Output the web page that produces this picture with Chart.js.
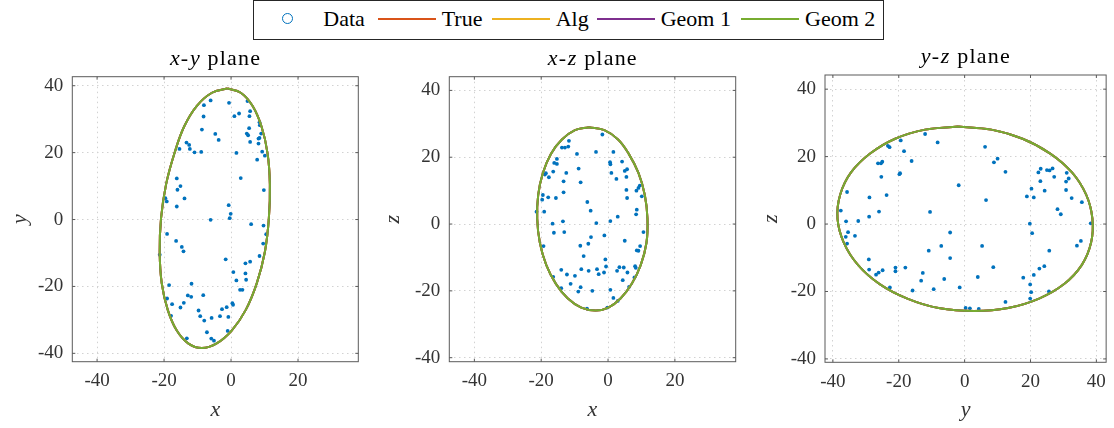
<!DOCTYPE html>
<html>
<head>
<meta charset="utf-8">
<script src="https://cdn.jsdelivr.net/npm/chart.js@4.4.0/dist/chart.umd.min.js"></script>
<style>
    body {
        margin: 0;
        background: #fff;
        width: 1114px;
        height: 428px;
        position: relative;
        overflow: hidden;
        font-family: "Liberation Serif", serif;
    }
    canvas { position: absolute; }
    #legend {
        position: absolute;
        left: 253px;
        top: 0;
        width: 631px;
        height: 40px;
        box-sizing: border-box;
        border: 1px solid #262626;
        background: #fff;
    }
    #legend .sym { position: absolute; width: 58px; height: 38px; }
    #legend .sym .ln { position: absolute; left: 0; right: 0; top: 17.3px; height: 2px; }
    #legend .sym .ring {
        position: absolute; left: 23px; top: 12.3px;
        width: 9px; height: 9px; border: 1.5px solid #0072BD; border-radius: 50%;
    }
    #legend .txt { position: absolute; top: 0; font-size: 22px; line-height: 36px; color: #000; white-space: nowrap; }
</style>
</head>
<body>
<div id="legend"></div>
<canvas id="planeXY" width="370" height="382" style="left:0;top:46px"></canvas>
<canvas id="planeXZ" width="371" height="382" style="left:377px;top:46px"></canvas>
<canvas id="planeYZ" width="361" height="382" style="left:753px;top:46px"></canvas>

<script>
// series names and colours (data, true ellipse, algebraic fit, two geometric fits)
const seriesLabels = ['Data', 'True', 'Alg', 'Geom 1', 'Geom 2'];
const seriesColors = ['#0072BD', '#D95319', '#EDB120', '#7E2F8E', '#77AC30'];
const tickValues = [-40, -20, 0, 20, 40];

// projected samples, x-y plane
const xyPtsX = [-6.1, -0.6, -8.1, -8.2, 4.9, 5.7, 5.5, 2.4, 1.0, -8.7, -4.7, -3.7, 5.4, 4.7, 5.1, 5.7,
    8.5, 8.6, 9.0, 8.5, 8.2, 8.2, 9.3, 10.1, 7.8, 1.6, -13.3, -12.5, -12.3, -15.4, -10.9, -8.9,
    -16.2, -15.1, -16.0, -13.9, -16.2, -19.2, -19.6, 2.9, 9.8, -0.7, -0.1, -0.4, -6.1, 6.0, 9.7, 10.5,
    -19.1, -16.4, -14.7, -14.2, -21.3, 9.6, 8.5, 5.7, 4.3, -1.6, 0.7, 4.3, 1.6, 4.5, 2.7, 3.4,
    -18.5, -11.8, -12.9, -11.9, -8.3, -19.1, -17.6, -15.1, -14.1, -9.7, -9.2, -8.0, -5.8, -2.7, -1.3, 0.4,
    0.6, -3.3, -0.8, -7.2, -1.0, -13.2, -5.9, -5.1, -17.9];
const xyPtsY = [35.6, 34.9, 34.2, 30.8, 35.4, 32.4, 30.9, 31.7, 30.9, 26.9, 25.6, 23.8, 27.3, 25.7, 25.2, 23.2,
    29.1, 28.2, 25.7, 24.4, 24.2, 22.7, 20.3, 19.1, 17.9, 19.9, 23.0, 22.3, 21.1, 21.1, 20.1, 20.2,
    12.3, 10.0, 8.9, 6.3, 3.9, 5.4, 6.4, 12.4, 8.8, 4.3, 1.7, 0.4, -0.1, -1.4, -1.8, -4.4,
    -4.3, -6.4, -8.2, -9.5, -10.5, -7.2, -10.9, -12.6, -13.1, -11.9, -15.7, -16.1, -18.2, -18.0, -21.0, -21.0,
    -19.6, -19.2, -22.7, -23.1, -22.6, -23.6, -25.3, -26.3, -24.9, -27.2, -28.9, -30.2, -29.4, -26.8, -26.2, -25.0,
    -25.5, -28.9, -29.1, -33.7, -33.3, -35.5, -35.6, -36.2, -28.8];
// fitted ellipse outline, x-y plane
const xyRingX = [-1.1, 2.9, 6.4, 9.1, 10.9, 11.6, 11.3, 10.1, 7.7, 4.4, 0.2, -4.4, -8.7,
    -12.7, -16.2, -18.9, -20.7, -21.3, -20.9, -19.4, -16.9, -14.0, -10.2, -5.7, -1.1];
const xyRingY = [39.2, 37.9, 34.0, 27.8, 19.8, 10.5, 0.4, -9.7, -19.0, -27.0, -33.2, -37.1, -38.4,
    -37.1, -33.2, -27.0, -19.0, -9.7, 0.4, 10.5, 19.8, 27.8, 34.0, 37.9, 39.2];

// projected samples, x-z plane
const xzPtsX = [-1.7, -11.7, -11.9, -12.9, -13.8, -3.6, 1.6, -9.3, 0.6, 0.7, 4.2, -15.3, -16.1, -15.3, -16.4, -18.6,
    -18.9, -17.7, -12.5, -8.8, 1.0, 5.7, 5.0, 2.5, 5.5, -13.3, -8.2, 9.5, 9.1, 8.5, 5.5, -13.3,
    -19.5, -17.9, -15.6, -19.7, 5.7, 10.1, -6.2, -5.2, 8.6, 8.4, 2.9, -19.1, -21.4, -13.5, 0.7, -3.5,
    -16.6, -16.2, -13.1, 10.6, -1.1, -5.1, 5.0, -5.9, -8.3, -19.3, 9.6, 8.6, 9.1, -7.3, -0.8, -0.6,
    8.1, 8.3, 3.4, 4.7, -14.0, -8.0, -3.3, 2.7, -5.8, -1.2, -2.8, -12.3, -9.9, -16.4, 7.9, 5.8,
    4.4, -11.2, -14.0, -8.2, 6.3, -8.9, -4.7, 0.7, 1.6, 2.9, -0.2, -6.3];
const xzPtsZ = [26.8, 24.9, 23.2, 22.9, 22.9, 21.6, 21.6, 21.0, 18.5, 17.9, 18.7, 19.5, 18.3, 18.0, 15.7, 15.2,
    14.8, 14.0, 15.3, 16.6, 15.3, 16.4, 15.9, 13.5, 14.1, 12.8, 12.5, 11.5, 10.8, 10.0, 10.2, 9.5,
    8.7, 8.0, 7.8, 7.3, 7.8, 8.3, 6.6, 4.0, 4.3, 2.9, 2.2, 3.7, 3.7, 0.8, 0.9, 0.3,
    0.1, -2.6, -2.4, -2.4, -3.4, -3.9, -5.0, -5.9, -6.5, -6.6, -6.6, -7.9, -8.0, -9.6, -10.6, -12.7,
    -12.6, -13.1, -12.9, -13.0, -13.7, -13.5, -13.5, -14.0, -14.0, -14.5, -15.0, -15.1, -15.5, -15.8, -16.0, -14.5,
    -16.8, -17.9, -19.2, -18.9, -18.8, -20.2, -20.0, -19.7, -22.1, -23.0, -25.0, -25.3];
// fitted ellipse outline, x-z plane
const xzRingX = [-5.7, -1.1, 3.0, 6.2, 9.1, 11.0, 11.8, 11.5, 9.8, 7.1, 3.8, 0.1, -3.7,
    -8.0, -12.1, -15.6, -18.5, -20.4, -21.2, -20.9, -19.5, -17.1, -13.8, -9.9, -5.7];
const xzRingZ = [29.0, 28.1, 25.3, 21.0, 15.3, 8.7, 1.6, -5.6, -12.2, -17.9, -22.2, -25.0, -25.9,
    -25.0, -22.2, -17.9, -12.2, -5.6, 1.6, 8.7, 15.3, 21.0, 25.3, 28.1, 29.0];

// projected samples, y-z plane
const yzPtsY = [-12.0, -8.2, -19.4, -23.3, -22.8, -18.4, -16.1, -25.0, -26.3, -25.4, -25.3, -19.6, -19.8, -23.7, -28.9, -35.7,
    -37.6, -26.0, -29.0, -10.5, -36.0, -32.3, -35.4, -36.1, -33.3, -35.7, -1.8, 6.2, 10.0, 8.9, 12.4, 6.5,
    -4.4, -7.1, 5.3, -4.4, -10.9, -29.1, -29.0, -24.9, -26.1, -26.9, -21.0, -21.0, -18.0, -12.7, -13.2, -22.7,
    -15.8, -9.4, -6.2, -1.5, 4.0, 8.7, 0.3, 1.6, 4.3, 12.4, 17.8, 19.9, 20.2, 19.9, 21.0, 22.7,
    24.2, 25.7, 25.6, 19.8, 20.5, 18.9, 20.3, 21.0, 22.4, 23.1, 23.0, 24.3, 25.0, 25.8, 26.7, 27.2,
    28.2, 29.2, 31.0, 30.8, 30.8, 31.6, 32.5, 35.6, 38.3, 35.3, 34.1];
const yzPtsZ = [26.7, 24.2, 24.8, 23.2, 22.8, 21.6, 18.7, 18.5, 18.0, 18.0, 14.0, 15.1, 14.8, 8.6, 7.9, 9.5,
    4.0, 3.7, 2.2, 3.6, 0.8, 0.9, -2.4, -3.8, -3.5, -5.8, 11.5, 22.9, 19.4, 18.3, 15.5, 7.1,
    -2.5, -6.5, -6.5, -10.1, -7.9, -10.5, -13.5, -13.7, -14.4, -15.0, -12.9, -14.0, -12.9, -14.5, -16.8, -18.8,
    -19.7, -19.3, -16.3, -18.8, -15.7, -12.8, -24.9, -25.0, -25.2, -23.1, -15.9, -17.9, -20.2, -22.1, -15.1, -13.2,
    -12.5, -7.9, -20.0, 0.1, -2.7, 8.2, 10.5, 7.9, 15.3, 16.4, 12.7, 9.9, 16.0, 15.9, 16.5, 14.0,
    4.4, 2.9, 15.2, 12.6, 10.1, 13.5, 7.7, 6.5, 0.2, -5.0, -6.4];
// fitted ellipse outline, y-z plane
const yzRingY = [-2.0, 8.1, 17.6, 26.0, 32.6, 36.9, 38.8, 38.4, 35.6, 30.2, 22.6, 13.2, 3.0,
    -7.9, -17.4, -25.8, -32.4, -36.7, -38.6, -37.8, -34.5, -28.7, -21.1, -12.0, -2.0];
const yzRingZ = [28.9, 28.0, 25.3, 20.9, 15.3, 8.7, 1.6, -5.5, -12.1, -17.8, -22.1, -24.9, -25.8,
    -24.9, -22.1, -17.8, -12.1, -5.5, 1.6, 8.7, 15.3, 20.9, 25.3, 28.0, 28.9];

// axis limits (equal aspect)
const xyLimX = [-47.4, 38.0], xyLimY = [-42.5, 42.7];
const xzLimX = [-47.5, 38.2], xzLimZ = [-41.2, 44.1];
const yzLimY = [-42.4, 42.97], yzLimZ = [-41.0, 44.2];

function toPoints(xs, ys) {
    return xs.map((x, i) => ({ x: x, y: ys[i] }));
}

// legend across the top
function buildLegend() {
    const legend = document.getElementById('legend');
    const symLeft = [5.3, 123.7, 237.7, 342.7, 487];
    seriesLabels.forEach((label, i) => {
        const sym = document.createElement('div');
        sym.className = 'sym';
        sym.style.left = symLeft[i] + 'px';
        if (i === 0) {
            sym.innerHTML = '<div class="ring"></div>';
        } else {
            sym.innerHTML = `<div class="ln" style="background:${seriesColors[i]}"></div>`;
        }
        legend.appendChild(sym);
        const txt = document.createElement('div');
        txt.className = 'txt';
        txt.style.left = (symLeft[i] + 64) + 'px';
        txt.textContent = label;
        legend.appendChild(txt);
    });
}

// title with $..$ parts set in italic
const planeTitle = {
    id: 'planeTitle',
    afterDraw(chart, args, opts) {
        const { ctx, chartArea } = chart;
        const parts = opts.text.split('$').map((s, i) => ({ s: s, it: i % 2 === 1 })).filter(p => p.s);
        const fontOf = p => (p.it ? 'italic ' : '') + '22px "Liberation Serif"';
        ctx.save();
        ctx.letterSpacing = '1.2px';
        let total = 0;
        parts.forEach(p => { ctx.font = fontOf(p); p.w = ctx.measureText(p.s).width; total += p.w; });
        let x = (chartArea.left + chartArea.right) / 2 - total / 2;
        ctx.fillStyle = '#000';
        ctx.textAlign = 'left';
        ctx.textBaseline = 'alphabetic';
        parts.forEach(p => {
            ctx.font = fontOf(p);
            ctx.fillText(p.s, x, chartArea.top - 11.7);
            x += p.w + (p.s === '-' ? 0.5 : 0);
        });
        ctx.restore();
    }
};

// axes box with inward tick marks
const axesBox = {
    id: 'axesBox',
    afterDatasetsDraw(chart) {
        const { ctx, chartArea: a, scales } = chart;
        ctx.save();
        ctx.strokeStyle = '#5a5a5a';
        ctx.lineWidth = 1;
        ctx.strokeRect(a.left, a.top, a.width, a.height);
        ctx.beginPath();
        scales.x.ticks.forEach(t => {
            const px = scales.x.getPixelForValue(t.value);
            ctx.moveTo(px, a.bottom); ctx.lineTo(px, a.bottom - 3);
            ctx.moveTo(px, a.top); ctx.lineTo(px, a.top + 3);
        });
        scales.y.ticks.forEach(t => {
            const py = scales.y.getPixelForValue(t.value);
            ctx.moveTo(a.left, py); ctx.lineTo(a.left + 3, py);
            ctx.moveTo(a.right, py); ctx.lineTo(a.right - 3, py);
        });
        ctx.stroke();
        ctx.restore();
    }
};

function drawPlane(id, p) {
    const datasets = [{
        label: seriesLabels[0],
        data: toPoints(p.ptsA, p.ptsB),
        backgroundColor: seriesColors[0],
        borderWidth: 0,
        pointRadius: 1.9,
        showLine: false,
        order: 5
    }];
    // all four fits share the outline; Geom 2 ends up on top
    for (let i = 1; i < seriesLabels.length; i++) {
        datasets.push({
            label: seriesLabels[i],
            data: toPoints(p.ringA, p.ringB),
            borderColor: seriesColors[i],
            borderWidth: 2,
            pointRadius: 0,
            showLine: true,
            fill: false,
            tension: 0.4,
            order: 5 - i
        });
    }

    const tickFont = { family: 'Liberation Serif', size: 19 };
    const labelFont = { family: 'Liberation Serif', size: 22, style: 'italic' };
    const grid = { color: '#d2d2d2', lineWidth: 1, drawTicks: false };
    const border = { display: false, dash: [1.5, 3.5] };

    new Chart(document.getElementById(id), {
        type: 'scatter',
        data: { datasets: datasets },
        options: {
            responsive: false,
            animation: false,
            events: [],
            layout: { padding: { left: 0, right: p.padRight, top: p.padTop, bottom: 0 } },
            plugins: {
                legend: { display: false },
                tooltip: { enabled: false },
                planeTitle: { text: p.title }
            },
            scales: {
                x: {
                    type: 'linear',
                    min: p.limA[0], max: p.limA[1],
                    afterBuildTicks: s => { s.ticks = tickValues.filter(v => v >= s.min && v <= s.max).map(v => ({ value: v })); },
                    afterFit: s => { s.height = p.xAxisHeight; },
                    grid: grid, border: border,
                    ticks: { font: tickFont, color: '#333', padding: 8, autoSkip: false, maxRotation: 0 },
                    title: { display: true, text: p.labelA, font: labelFont, color: '#333', padding: { top: 0, bottom: 5 } }
                },
                y: {
                    type: 'linear',
                    min: p.limB[0], max: p.limB[1],
                    afterBuildTicks: s => { s.ticks = tickValues.filter(v => v >= s.min && v <= s.max).map(v => ({ value: v })); },
                    afterFit: s => { s.width = p.yAxisWidth; },
                    grid: grid, border: border,
                    ticks: { font: tickFont, color: '#333', padding: 9, autoSkip: false },
                    title: { display: true, text: p.labelB, font: labelFont, color: '#333', padding: { top: p.yTitlePad, bottom: 0 } }
                }
            }
        },
        plugins: [planeTitle, axesBox]
    });
}

buildLegend();

drawPlane('planeXY', {
    title: '$x$-$y$ plane', labelA: 'x', labelB: 'y',
    ptsA: xyPtsX, ptsB: xyPtsY, ringA: xyRingX, ringB: xyRingY,
    limA: xyLimX, limB: xyLimY,
    padTop: 30.7, padRight: 11.7, yAxisWidth: 72.3, xAxisHeight: 66.3, yTitlePad: 7.5
});
drawPlane('planeXZ', {
    title: '$x$-$z$ plane', labelA: 'x', labelB: 'z',
    ptsA: xzPtsX, ptsB: xzPtsZ, ringA: xzRingX, ringB: xzRingZ,
    limA: xzLimX, limB: xzLimZ,
    padTop: 30.7, padRight: 12.3, yAxisWidth: 72.3, xAxisHeight: 66.3, yTitlePad: 3.1
});
drawPlane('planeYZ', {
    title: '$y$-$z$ plane', labelA: 'y', labelB: 'z',
    ptsA: yzPtsY, ptsB: yzPtsZ, ringA: yzRingY, ringB: yzRingZ,
    limA: yzLimY, limB: yzLimZ,
    padTop: 29, padRight: 1.7, yAxisWidth: 72, xAxisHeight: 65.7, yTitlePad: 4.8
});
</script>
</body>
</html>
